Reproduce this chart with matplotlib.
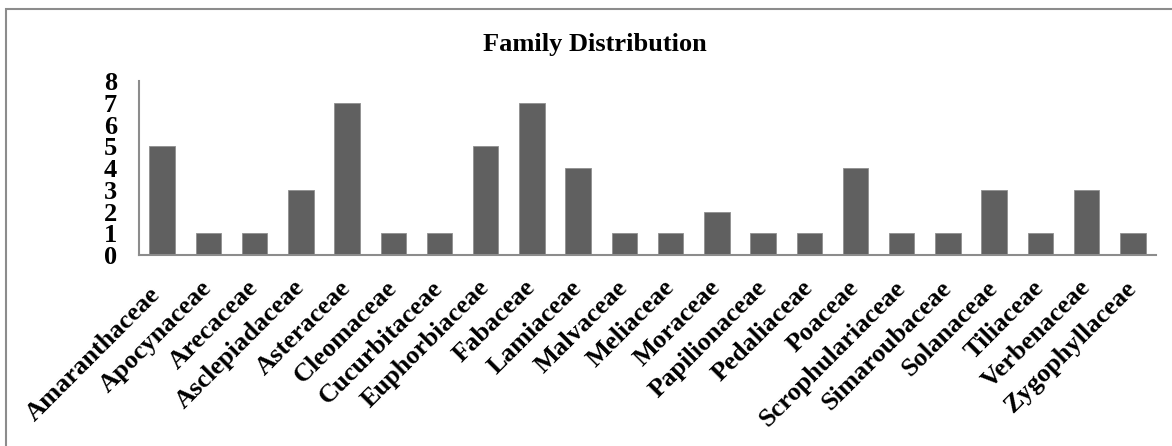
import matplotlib
matplotlib.use("Agg")
import matplotlib.pyplot as plt
from matplotlib.patches import Rectangle
from matplotlib.transforms import ScaledTranslation

families = [
    "Amaranthaceae", "Apocynaceae", "Arecaceae", "Asclepiadaceae", "Asteraceae",
    "Cleomaceae", "Cucurbitaceae", "Euphorbiaceae", "Fabaceae", "Lamiaceae",
    "Malvaceae", "Meliaceae", "Moraceae", "Papilionaceae", "Pedaliaceae",
    "Poaceae", "Scrophulariaceae", "Simaroubaceae", "Solanaceae", "Tiliaceae",
    "Verbenaceae", "Zygophyllaceae",
]
counts = [5, 1, 1, 3, 7, 1, 1, 5, 7, 4, 1, 1, 2, 1, 1, 4, 1, 1, 3, 1, 3, 1]
y_ticks = [0, 1, 2, 3, 4, 5, 6, 7, 8]
title = "Family Distribution"

plt.rcParams["font.family"] = ["Liberation Serif", "DejaVu Serif"]
plt.rcParams["font.weight"] = "bold"

W, H = 1172, 446
fig = plt.figure(figsize=(W / 100, H / 100), dpi=100)

# chart-area frame (runs past the right and bottom edges)
fig.add_artist(Rectangle((6 / W, -0.1), 1.2, (H - 9) / H + 0.1,
                         transform=fig.transFigure, fill=False,
                         edgecolor="#8c8c8c", linewidth=1.5))

left, right = 139 / W, 1156 / W
bottom, top = (H - 255) / H, (H - 81.3) / H
ax = fig.add_axes([left, bottom, right - left, top - bottom])

x = range(len(families))
ax.bar(x, counts, width=0.55, color="#606060", edgecolor="#8f8f8f", linewidth=0.6)

ax.set_xlim(-0.5, len(families) - 0.5)
ax.set_ylim(0, 8)
ax.set_yticks(y_ticks)
ax.set_yticklabels([str(v) for v in y_ticks], fontsize=19, fontweight="bold")
ax.set_xticks(list(x))
labels = ax.set_xticklabels(families, rotation=45, ha="right", va="center",
                            rotation_mode="anchor", fontsize=19, fontweight="bold")
ax.tick_params(axis="y", length=0, pad=16)
ax.tick_params(axis="x", length=0, pad=21)

# first label is nudged down-left so it stays inside the frame
labels[0].set_transform(labels[0].get_transform()
                        + ScaledTranslation(-6 / 100, -7 / 100, fig.dpi_scale_trans))

for s in ("top", "right"):
    ax.spines[s].set_visible(False)
for s in ("left", "bottom"):
    ax.spines[s].set_color("#8c8c8c")
    ax.spines[s].set_linewidth(1.5)

fig.text((482 + 707) / 2 / W, 1 - 45 / H, title, ha="center", va="center",
         fontsize=19, fontweight="bold")

fig.savefig("out.png", dpi=100, facecolor="white")
